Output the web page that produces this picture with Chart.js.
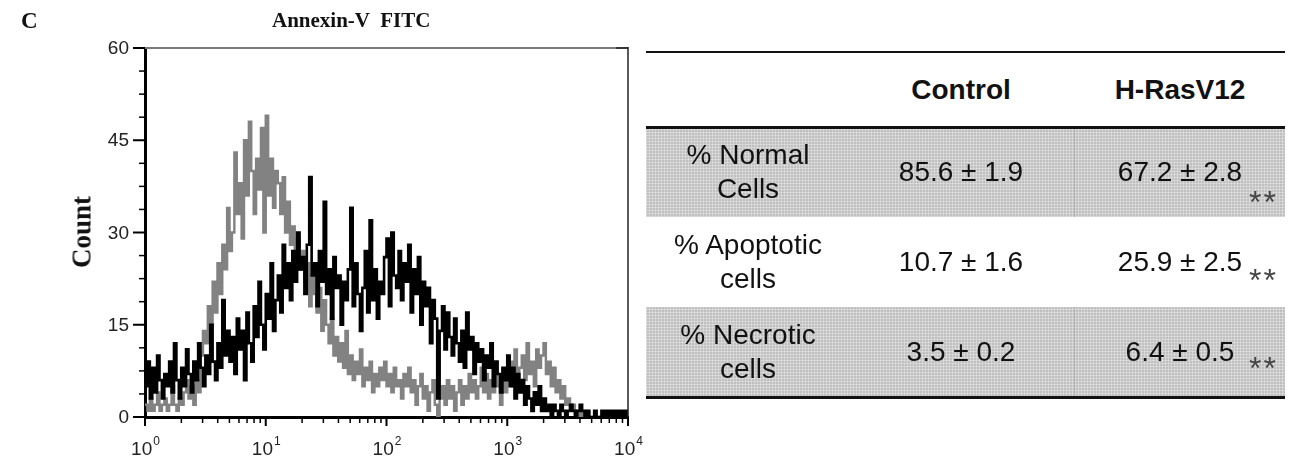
<!DOCTYPE html>
<html>
<head>
<meta charset="utf-8">
<script src="https://cdn.jsdelivr.net/npm/chart.js@4.4.0/dist/chart.umd.min.js"></script>
<style>
  body { margin: 0; background: #fff; }
  #wrap { position: relative; width: 1294px; height: 470px; overflow: hidden;
          font-family: "Liberation Sans", Arial, sans-serif; color: #111; }
  #hist { position: absolute; left: 0; top: 0; }
  .serif { position: absolute; font-family: "Liberation Serif", "Times New Roman", serif;
           font-weight: bold; white-space: pre; line-height: 1; }
  .rule { position: absolute; background: #111; }
  .shade { position: absolute; background-color: #c0c0c0;
           background-image: linear-gradient(90deg, rgba(255,255,255,.3) 1px, transparent 1px),
                             linear-gradient(0deg, rgba(255,255,255,.3) 1px, transparent 1px);
           background-size: 3px 3px; }
  .cell { position: absolute; display: flex; align-items: center; justify-content: center;
          text-align: center; font-size: 28px; line-height: 34px; white-space: nowrap; }
  .head { font-weight: bold; }
  .star { position: absolute; font-size: 32px; color: #444; line-height: 1; letter-spacing: 2px; }
</style>
</head>
<body>
<div id="wrap">
  <canvas id="hist" width="660" height="470"></canvas>
  <div class="serif" style="left:21px;top:9px;font-size:23px;">C</div>
  <div class="serif" style="left:272px;top:10px;font-size:21px;">Annexin-V  FITC</div>
  <div class="serif" style="left:82px;top:232px;font-size:27px;transform:translate(-50%,-50%) rotate(-90deg);">Count</div>
  <div id="table"></div>
</div>
<script>
// histogram channels: 50 per decade, channel 0 = 10^0, channel 200 = 10^4
const channelsPerDecade = 50;
const xDecades = [0, 1, 2, 3, 4];
const yTicks = [0, 15, 30, 45, 60];

// Control (grey trace)
const controlCounts = [
  2, 1, 3, 1, 2, 4, 1, 2, 3, 1, 2, 5, 2, 1, 3,
  2, 4, 6, 3, 5, 2, 6, 4,
  10, 14, 12,
  18, 15, 22, 17, 25,
  20, 28, 24, 34, 27,
  30, 43, 33, 38, 29,
  45, 36, 48, 40, 33,
  42, 37, 47, 30, 49,
  36, 42, 34, 40, 38,
  33, 39, 30, 35, 28,
  31, 26, 29, 24, 27,
  22, 25, 18, 23, 20,
  17, 21, 14, 19, 15,
  12, 16, 10, 13, 9,
  12, 8, 14, 7, 10,
  6, 9, 7, 11, 5,
  8, 6, 9, 4, 7,
  5, 8, 6, 9, 5,
  7, 4, 8, 5, 6,
  3, 7, 5, 8, 4,
  6, 2, 5, 7, 3,
  5, 1, 4, 6, 2,
  0, 3, 5, 2, 6,
  3, 5, 1, 4, 6,
  2, 5, 3, 7, 4,
  6, 3, 5, 8, 4,
  7, 3, 6, 4, 8,
  5, 2, 7, 4, 6,
  9, 5, 11, 6, 8,
  10, 6, 12, 7, 9,
  5, 11, 8, 10, 12,
  7, 9, 5, 8, 4,
  6, 3, 5, 2, 3,
  1, 2, 1, 0, 1,
  0, 1, 0, 0, 0,
  0, 0, 0, 0, 0, 0, 0, 0, 0, 0, 0, 0, 0, 0, 0
];

// H-RasV12 (black trace)
const rasCounts = [
  5, 9, 3, 8, 4,
  10, 6, 3, 7, 5,
  9, 4, 12, 6, 3,
  8, 5, 11, 7, 4,
  9, 6, 12, 8, 5,
  10, 7, 15, 9, 6,
  12, 8, 19, 10, 14,
  9, 13, 7, 16, 11,
  14, 6, 17, 12, 9,
  18, 13, 22, 15, 11,
  20, 16, 25, 14, 19,
  23, 17, 28, 21, 25,
  19, 27, 22, 30, 24,
  26, 20, 28, 39, 23,
  25, 18, 27, 22, 35,
  20, 24, 16, 26, 21,
  23, 15, 22, 19, 24,
  34, 18, 25, 20, 14,
  21, 27, 17, 32, 19,
  24, 16, 22, 20, 26,
  29, 18, 30, 23, 21,
  27, 19, 25, 22, 28,
  17, 24, 20, 26, 15,
  22, 18, 21, 12, 19,
  16, 3, 14, 18, 11,
  17, 13, 10, 16, 12,
  9, 14, 8, 17, 11,
  13, 7, 12, 9, 11,
  6, 10, 8, 12, 5,
  9, 7, 4, 8, 6,
  10, 5, 8, 3, 7,
  4, 6, 2, 5, 3,
  1, 4, 2, 5, 1,
  3, 1, 2, 0, 2,
  1, 0, 2, 1, 0,
  1, 2, 1, 0, 1,
  2, 1, 0, 1, 0,
  0, 1, 0, 0, 1,
  0, 1, 0, 1, 0,
  1, 0, 1, 0, 1,
  0
];

// table content
const tableHeader = ['', 'Control', 'H-RasV12'];
const rowLabels = [['% Normal', 'Cells'], ['% Apoptotic', 'cells'], ['% Necrotic', 'cells']];
const controlValues = ['85.6 ± 1.9', '10.7 ± 1.6', '3.5 ± 0.2'];
const rasValues = ['67.2 ± 2.8', '25.9 ± 2.5', '6.4 ± 0.5'];
const significance = ['**', '**', '**'];

const axisDecor = {
  id: 'axisDecor',
  afterDraw(chart) {
    const { ctx, chartArea: a, scales: { x, y } } = chart;
    const seg = (x1, y1, x2, y2) => { ctx.beginPath(); ctx.moveTo(x1, y1); ctx.lineTo(x2, y2); ctx.stroke(); };
    ctx.save();
    // frame top and right
    ctx.strokeStyle = '#7a7a7a'; ctx.lineWidth = 2;
    seg(a.left, a.top, a.right, a.top);
    ctx.strokeStyle = '#222'; ctx.lineWidth = 1.5;
    seg(a.right, a.top - 1, a.right, a.bottom);
    seg(a.right - 12, a.top, a.right, a.top);

    ctx.strokeStyle = '#000';
    ctx.fillStyle = '#222';
    // y ticks
    ctx.font = '19px "Liberation Sans", Arial, sans-serif';
    ctx.textAlign = 'right'; ctx.textBaseline = 'middle';
    yTicks.forEach((v, k) => {
      const py = y.getPixelForValue(v);
      ctx.lineWidth = 2;
      seg(a.left - 12, py, a.left, py);
      ctx.fillText(String(v), a.left - 16, py + 1);
      if (k < yTicks.length - 1) {
        const step = (yTicks[k + 1] - v) / 4;
        ctx.lineWidth = 1.5;
        for (let m = 1; m < 4; m++) {
          const pm = y.getPixelForValue(v + m * step);
          seg(a.left - 6, pm, a.left, pm);
        }
      }
    });
    // x ticks, log decades
    ctx.textBaseline = 'alphabetic';
    xDecades.forEach((d, k) => {
      const px = x.getPixelForValue(d * channelsPerDecade);
      ctx.lineWidth = 2;
      seg(px, a.bottom, px, a.bottom + 9);
      ctx.font = '19px "Liberation Sans", Arial, sans-serif';
      const wBase = ctx.measureText('10').width;
      ctx.font = '12px "Liberation Sans", Arial, sans-serif';
      const wExp = ctx.measureText(String(d)).width;
      const left = px - (wBase + wExp) / 2;
      ctx.textAlign = 'left';
      ctx.font = '19px "Liberation Sans", Arial, sans-serif';
      ctx.fillText('10', left, a.bottom + 38);
      ctx.font = '12px "Liberation Sans", Arial, sans-serif';
      ctx.fillText(String(d), left + wBase + 1, a.bottom + 28);
      if (k < xDecades.length - 1) {
        ctx.lineWidth = 1.5;
        for (let m = 2; m <= 9; m++) {
          const pm = x.getPixelForValue((d + Math.log10(m)) * channelsPerDecade);
          seg(pm, a.bottom, pm, a.bottom + 6);
        }
      }
    });
    ctx.restore();
  }
};

new Chart(document.getElementById('hist'), {
  type: 'line',
  data: {
    datasets: [
      {
        label: 'H-RasV12',
        data: rasCounts.map((v, i) => ({ x: i, y: v })),
        borderColor: '#000',
        borderWidth: 2.6,
        stepped: true,
        pointRadius: 0,
        fill: false,
        order: 1
      },
      {
        label: 'Control',
        data: controlCounts.map((v, i) => ({ x: i, y: v })),
        borderColor: '#828282',
        borderWidth: 2.4,
        stepped: true,
        pointRadius: 0,
        fill: false,
        order: 2
      }
    ]
  },
  options: {
    responsive: false,
    animation: false,
    layout: { padding: { left: 145, right: 32, top: 48, bottom: 53 } },
    plugins: { legend: { display: false }, tooltip: { enabled: false } },
    scales: {
      x: {
        type: 'linear', min: 0, max: xDecades[xDecades.length - 1] * channelsPerDecade,
        ticks: { display: false },
        grid: { display: false, drawTicks: false },
        border: { display: true, color: '#000', width: 3 },
        afterFit: (s) => { s.height = 0; }
      },
      y: {
        min: yTicks[0], max: yTicks[yTicks.length - 1],
        ticks: { display: false },
        grid: { display: false, drawTicks: false },
        border: { display: true, color: '#000', width: 3 },
        afterFit: (s) => { s.width = 0; }
      }
    }
  },
  plugins: [axisDecor]
});

// table built from the arrays above
(function buildTable() {
  const t = document.getElementById('table');
  const L = 646, R = 1285;
  const colCenters = [748, 961, 1180];
  const rowTops = [127, 217, 307];
  const rowH = 90;
  const starOffsets = [14, 2, 0];
  const add = (cls, style, html) => {
    const d = document.createElement('div');
    d.className = cls; d.style.cssText = style; d.innerHTML = html || '';
    t.appendChild(d);
  };
  rowTops.forEach((top, r) => {
    if (r % 2 === 0) {
      add('shade', `left:${L}px;top:${top}px;width:${R - L}px;height:${rowH}px;`);
      add('rule', `left:1074px;top:${top}px;width:1px;height:${rowH}px;background:#b0b0b0;`);
    }
  });
  add('rule', `left:${L}px;top:51px;width:${R - L}px;height:2px;`);
  add('rule', `left:${L}px;top:126px;width:${R - L}px;height:3px;`);
  add('rule', `left:${L}px;top:396px;width:${R - L}px;height:3px;`);
  tableHeader.forEach((h, c) => {
    if (h) add('cell head', `left:${colCenters[c] - 120}px;width:240px;top:53px;height:73px;`, h);
  });
  rowTops.forEach((top, r) => {
    const style = (c) => `left:${colCenters[c] - 120}px;width:240px;top:${top}px;height:${rowH}px;`;
    add('cell', style(0), rowLabels[r].join('<br>'));
    add('cell', style(1), controlValues[r]);
    add('cell', style(2), rasValues[r]);
    add('star', `left:1249px;top:${top + rowH / 2 + starOffsets[r]}px;`, significance[r]);
  });
})();
</script>
</body>
</html>
